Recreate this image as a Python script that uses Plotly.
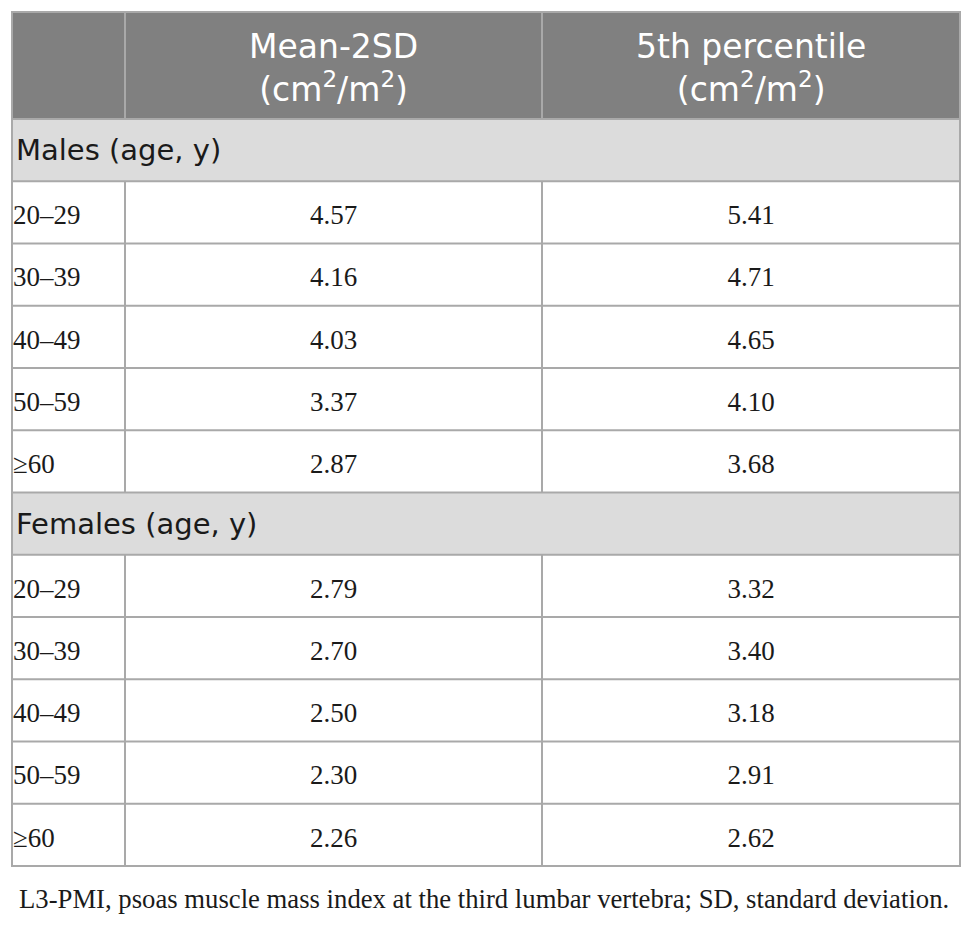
import plotly.graph_objects as go

# table content
col_headers = ["Mean-2SD<br>(cm<sup>2</sup>/m<sup>2</sup>)",
               "5th percentile<br>(cm<sup>2</sup>/m<sup>2</sup>)"]
groups = ["Males (age, y)", "Females (age, y)"]
age_bands = ["20–29", "30–39", "40–49", "50–59", "≥60"]
male_mean_2sd = [4.57, 4.16, 4.03, 3.37, 2.87]
male_p5 = [5.41, 4.71, 4.65, 4.10, 3.68]
female_mean_2sd = [2.79, 2.70, 2.50, 2.30, 2.26]
female_p5 = [3.32, 3.40, 3.18, 2.91, 2.62]
footnote = ("L3-PMI, psoas muscle mass index at the third lumbar vertebra; "
            "SD, standard deviation.")

# geometry (pixel-like data coords); page body has an 8px margin
W, H = 975, 927
PAD = 8
X0, X1, X2, X3 = 12, 125, 542, 960
Y0, HEAD_H, ROW_H = 12, 107, 62.25
LINE = "#a9a9a9"
HEAD_FILL = "#808080"
GROUP_FILL = "#dcdcdc"
SANS = "DejaVu Sans"
SERIF = "Liberation Serif"

rows = [("group", groups[0])]
rows += [("data", b, m, p) for b, m, p in zip(age_bands, male_mean_2sd, male_p5)]
rows += [("group", groups[1])]
rows += [("data", b, m, p) for b, m, p in zip(age_bands, female_mean_2sd, female_p5)]

body_top = Y0 + HEAD_H
bottom = body_top + len(rows) * ROW_H

shapes = []
# header background
shapes.append(dict(type="rect", x0=X0, x1=X3, y0=Y0, y1=body_top,
                   fillcolor=HEAD_FILL, line_width=0, layer="below"))
shapes.append(dict(type="line", x0=X1, x1=X1, y0=Y0, y1=body_top,
                   line=dict(color=LINE, width=2)))
shapes.append(dict(type="line", x0=X2, x1=X2, y0=Y0, y1=body_top,
                   line=dict(color=LINE, width=2)))

lab_x, lab_y, lab_t = [], [], []
grp_x, grp_y, grp_t = [], [], []
val_x, val_y, val_t = [], [], []
for i, r in enumerate(rows):
    top = body_top + i * ROW_H
    mid = top + ROW_H / 2
    if r[0] == "group":
        shapes.append(dict(type="rect", x0=X0, x1=X3, y0=top, y1=top + ROW_H,
                           fillcolor=GROUP_FILL, line_width=0, layer="below"))
        grp_x.append(X0 + 4)
        grp_y.append(mid + 3)
        grp_t.append(r[1])
    else:
        for xv in (X1, X2):
            shapes.append(dict(type="line", x0=xv, x1=xv, y0=top, y1=top + ROW_H,
                               line=dict(color=LINE, width=2)))
        lab_x.append(X0 + 1)
        lab_y.append(mid + 5)
        lab_t.append(r[1])
        val_x += [(X1 + X2) / 2, (X2 + X3) / 2]
        val_y += [mid + 5, mid + 5]
        val_t += ["{:.2f}".format(r[2]), "{:.2f}".format(r[3])]
    shapes.append(dict(type="line", x0=X0, x1=X3, y0=top, y1=top,
                       line=dict(color=LINE, width=2)))

# outer border
shapes.append(dict(type="rect", x0=X0, x1=X3, y0=Y0, y1=bottom,
                   line=dict(color=LINE, width=2)))

fig = go.Figure()
fig.add_trace(go.Scatter(x=grp_x, y=grp_y, text=grp_t, mode="text",
                         textposition="middle right",
                         textfont=dict(family=SANS, size=29, color="#1a1a1a"),
                         hoverinfo="skip"))
fig.add_trace(go.Scatter(x=lab_x, y=lab_y, text=lab_t, mode="text",
                         textposition="middle right",
                         textfont=dict(family=SERIF, size=27, color="#1a1a1a"),
                         hoverinfo="skip"))
fig.add_trace(go.Scatter(x=val_x, y=val_y, text=val_t, mode="text",
                         textposition="middle center",
                         textfont=dict(family=SERIF, size=27, color="#1a1a1a"),
                         hoverinfo="skip"))

annotations = []
for cx, txt in zip([(X1 + X2) / 2, (X2 + X3) / 2], col_headers):
    annotations.append(dict(x=cx, y=Y0 + HEAD_H / 2 + 2, xref="x", yref="y",
                            text=txt, showarrow=False, align="center",
                            font=dict(family=SANS, size=33, color="white")))
annotations.append(dict(x=X0 + 5, y=bottom + 33, xref="x", yref="y",
                        text=footnote, showarrow=False, xanchor="left",
                        font=dict(family=SERIF, size=26.7, color="#1a1a1a")))

fig.update_layout(
    width=W, height=H,
    margin=dict(l=0, r=0, t=0, b=0),
    paper_bgcolor="white", plot_bgcolor="white",
    showlegend=False,
    shapes=shapes, annotations=annotations,
    xaxis=dict(range=[PAD, W + PAD], visible=False, fixedrange=True),
    yaxis=dict(range=[H + PAD, PAD], visible=False, fixedrange=True),
)

fig.write_html("out.html")
